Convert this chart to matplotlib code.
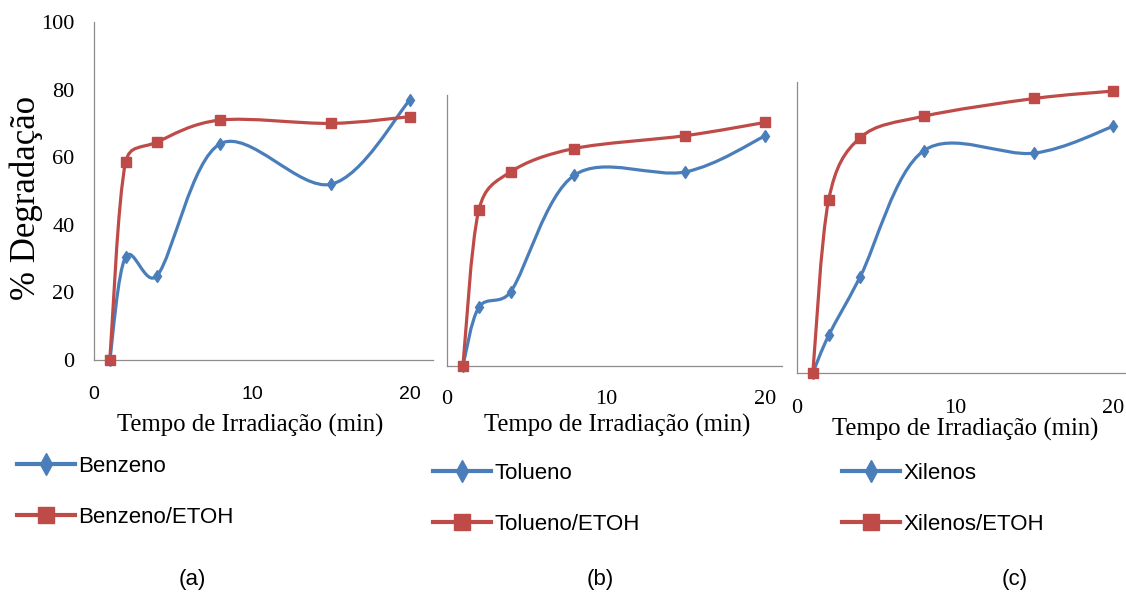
import numpy as np
from matplotlib import pyplot as plt
from matplotlib.path import Path
from matplotlib.patches import PathPatch
from matplotlib.lines import Line2D

# tempos de irradiacao (min)
tempo = [1, 2, 4, 8, 15, 20]

# % degradacao
benzeno = [0, 30.5, 25, 64, 52, 77]
benzeno_etoh = [0, 58.5, 64.5, 71, 70, 72]
tolueno = [0, 17.3, 21.9, 56.3, 57.3, 67.9]
tolueno_etoh = [0, 46, 57.3, 64.2, 68, 71.9]
xilenos = [0, 11.6, 29.8, 68.7, 68, 76.3]
xilenos_etoh = [0, 53.5, 72.8, 79.4, 84.9, 87.2]

nomes = ['Benzeno', 'Tolueno', 'Xilenos']
letras = ['(a)', '(b)', '(c)']

AZUL = '#4A7EBB'
VERMELHO = '#BE4B48'
SERIF = 'Liberation Serif'
SANS = ['Liberation Sans', 'DejaVu Sans']


# linha suavizada parecida com a do Excel: bezier com pontos de controle
# a 1/6 da diferenca dos vizinhos, limitados a metade do segmento
def curva_suave(ax, x, y):
    pts = ax.transData.transform(np.column_stack([x, y]).astype(float))
    verts = [pts[0]]
    codes = [Path.MOVETO]
    n = len(pts)
    for i in range(n - 1):
        p0 = pts[i - 1] if i > 0 else pts[i]
        p1 = pts[i]
        p2 = pts[i + 1]
        p3 = pts[i + 2] if i + 2 < n else pts[i + 1]
        d12 = np.hypot(*(p2 - p1))
        t1 = (p2 - p0) / 6
        t2 = (p3 - p1) / 6
        for t in (t1, t2):
            L = np.hypot(*t)
            if L > d12 / 2:
                t *= (d12 / 2) / L
        verts += [p1 + t1, p2 - t2, p2]
        codes += [Path.CURVE4] * 3
    verts = ax.transData.inverted().transform(np.array(verts))
    return Path(verts, codes)


def serie(ax, x, y, cor, marcador, tam):
    ax.add_patch(PathPatch(curva_suave(ax, x, y), fill=False, edgecolor=cor,
                           lw=2.3, capstyle='round', joinstyle='round', zorder=2))
    ax.plot(x, y, ls='none', marker=marcador, color=cor, ms=tam, zorder=3,
            clip_on=False)


W, H = 1126, 601
fig = plt.figure(figsize=(W / 100, H / 100), dpi=100)


def eixo(l, r, t, b):
    return fig.add_axes([l / W, 1 - b / H, (r - l) / W, (b - t) / H])


# posicoes em pixels (esq, dir, topo, base) e limites
caixas = [(94, 433, 22, 360), (447, 782, 95, 366), (797, 1126, 82, 373)]
xlims = [21.45, 21.07, 20.8]
ylims = [100, 80, 90]
azuis = [benzeno, tolueno, xilenos]
vermelhos = [benzeno_etoh, tolueno_etoh, xilenos_etoh]
pads_x = [19, 17, 19]
label_x = [250, 617, 965]
label_y = [425, 425, 429]

for k in range(3):
    ax = eixo(*caixas[k])
    ax.set_xlim(0, xlims[k])
    ax.set_ylim(0, ylims[k])
    serie(ax, tempo, azuis[k], AZUL, 'd', 6.5)
    serie(ax, tempo, vermelhos[k], VERMELHO, 's', 7.5)
    ax.set_xticks([0, 10, 20])
    for s in ['top', 'right']:
        ax.spines[s].set_visible(False)
    for s in ['left', 'bottom']:
        ax.spines[s].set_color('#8C8C8C')
        ax.spines[s].set_linewidth(0.9)
    ax.tick_params(length=0, pad=pads_x[k], labelsize=16)
    for t in ax.get_xticklabels():
        if k == 0:
            t.set_fontfamily(SANS)
            t.set_fontsize(14)
        else:
            t.set_fontfamily(SERIF)
    if k == 0:
        ax.set_yticks(range(0, 101, 20))
        ax.tick_params(axis='y', pad=14)
        for t in ax.get_yticklabels():
            t.set_fontfamily(SERIF)
    else:
        ax.set_yticks([])
    fig.text(label_x[k] / W, 1 - label_y[k] / H,
             'Tempo de Irradiação (min)', family=SERIF, fontsize=17.8,
             ha='center', va='center')

fig.text(26 / W, 1 - 198 / H, '% Degradação', family=SERIF, fontsize=25,
         rotation=90, ha='center', va='center')

# legendas
leg_pos = [(17, 456), (433, 463), (842, 463)]
for k in range(3):
    h = [Line2D([], [], color=AZUL, lw=3, marker='d', ms=11),
         Line2D([], [], color=VERMELHO, lw=3, marker='s', ms=12)]
    fig.legend(h, [nomes[k], nomes[k] + '/ETOH'], loc='upper left',
               bbox_to_anchor=(leg_pos[k][0] / W, 1 - leg_pos[k][1] / H),
               frameon=False, handlelength=2.6, handletextpad=0.15,
               labelspacing=1.35, borderaxespad=0, borderpad=0,
               prop={'family': SANS, 'size': 16})

for x, txt in zip([192, 600, 1015], letras):
    fig.text(x / W, 1 - 580 / H, txt, family=SANS, fontsize=16,
             ha='center', va='center')

fig.savefig('out.png', dpi=100)
